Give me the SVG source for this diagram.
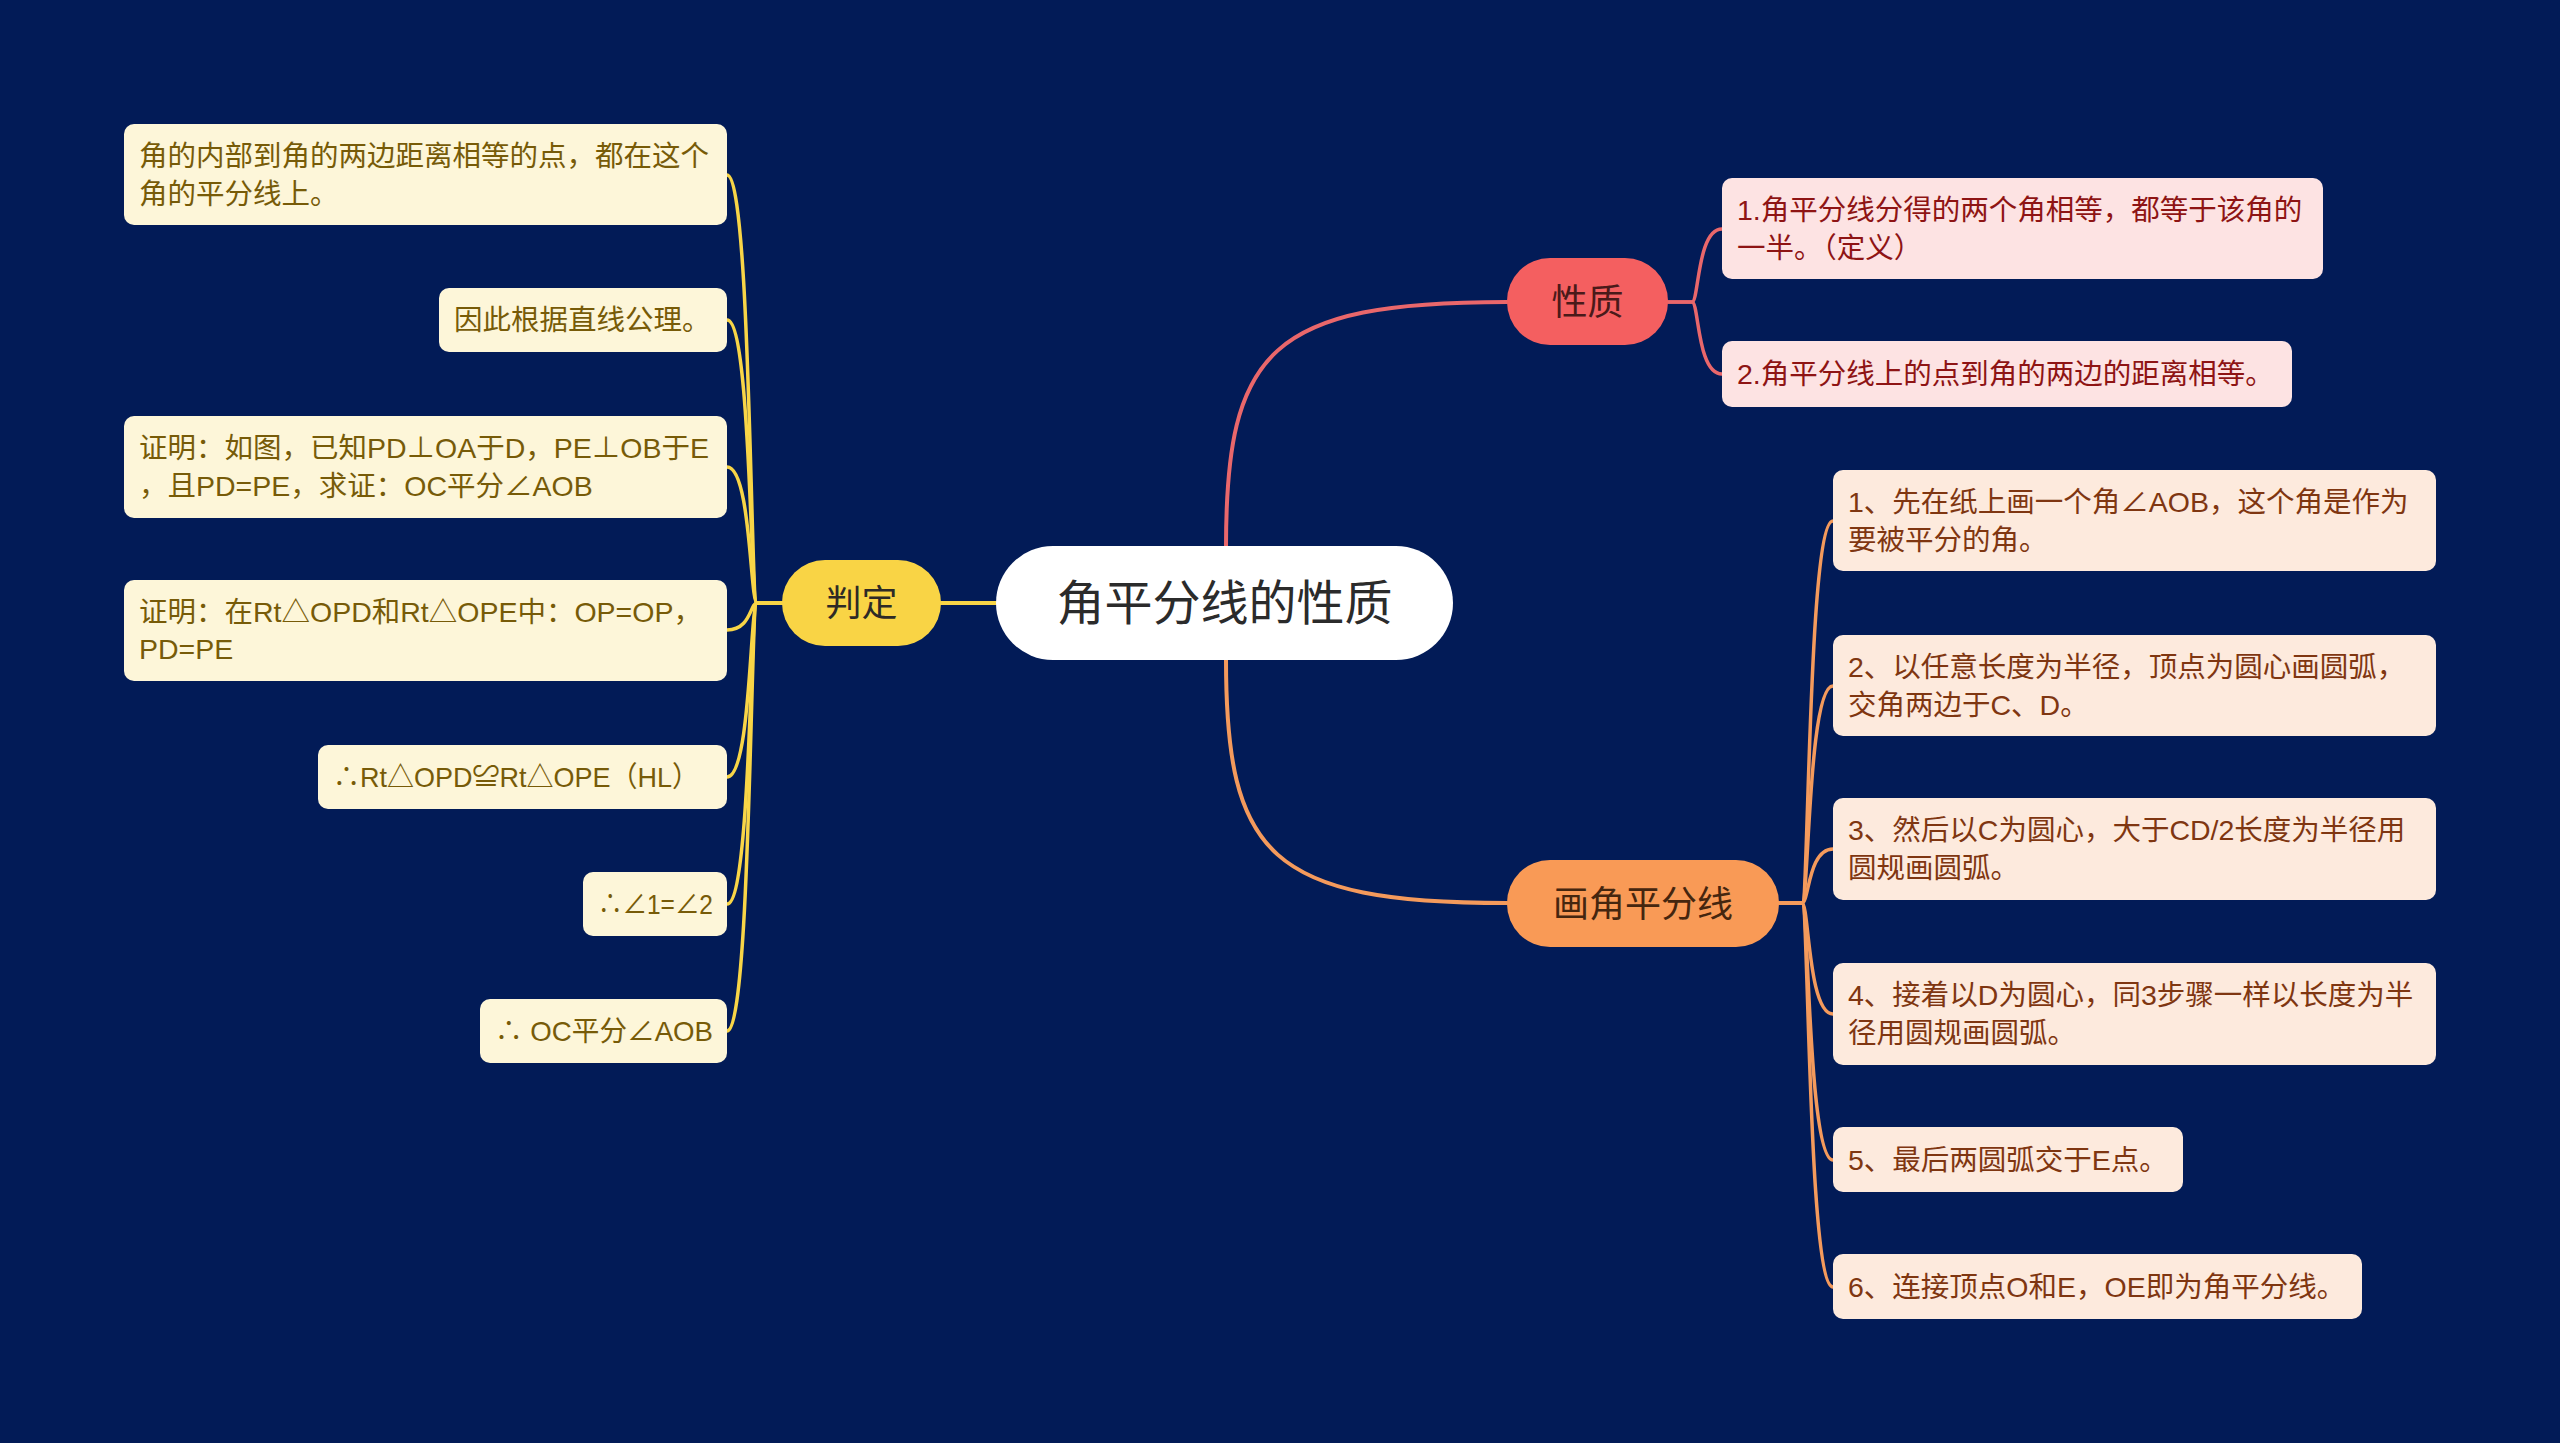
<svg xmlns="http://www.w3.org/2000/svg" width="2560" height="1443" viewBox="0 0 2560 1443">
<style>
text{font-family:"Liberation Sans","Noto Sans CJK SC",sans-serif;}
.leaf{font-size:28.5px;}
.yl rect{fill:#fdf6d9;}
.yl text{fill:#775b08;}
.rd rect{fill:#fde3e3;}
.rd text{fill:#8e1414;}
.or rect{fill:#fdeadd;}
.or text{fill:#7f3611;}
.c{fill:none;stroke-linecap:round;}
.cy{stroke:#f8d547;}
.cr{stroke:#e9676b;}
.co{stroke:#f49a5c;}
.main{stroke-width:4;}
.sub{stroke-width:3.5;}
.topic{font-size:36px;fill:#2e2a26;text-anchor:middle;}
</style>
<rect width="2560" height="1443" fill="#021b57"/>
<g id="connectors">
<path class="c cy main" d="M 996 603 H 940"/>
<path class="c cr main" d="M 1226 547 C 1226 350 1270 302 1507 302"/>
<path class="c co main" d="M 1226 660 C 1226 855 1270 903 1507 903"/>
<path class="c cy sub" d="M 782 603 L 757 603 C 750 603 751 175 727 175"/>
<path class="c cy sub" d="M 782 603 L 757 603 C 750 603 751 320 727 320"/>
<path class="c cy sub" d="M 782 603 L 757 603 C 750 603 751 467 727 467"/>
<path class="c cy sub" d="M 782 603 L 757 603 C 750 603 751 630 727 630"/>
<path class="c cy sub" d="M 782 603 L 757 603 C 750 603 751 777 727 777"/>
<path class="c cy sub" d="M 782 603 L 757 603 C 750 603 751 904 727 904"/>
<path class="c cy sub" d="M 782 603 L 757 603 C 750 603 751 1031 727 1031"/>
<path class="c cr sub" d="M 1668 302 L 1692 302 C 1699 302 1697 229 1722 229"/>
<path class="c cr sub" d="M 1668 302 L 1692 302 C 1699 302 1697 374 1722 374"/>
<path class="c co sub" d="M 1779 903 L 1802 903 C 1809 903 1808 521 1833 521"/>
<path class="c co sub" d="M 1779 903 L 1802 903 C 1809 903 1808 686 1833 686"/>
<path class="c co sub" d="M 1779 903 L 1802 903 C 1809 903 1808 849 1833 849"/>
<path class="c co sub" d="M 1779 903 L 1802 903 C 1809 903 1808 1014 1833 1014"/>
<path class="c co sub" d="M 1779 903 L 1802 903 C 1809 903 1808 1160 1833 1160"/>
<path class="c co sub" d="M 1779 903 L 1802 903 C 1809 903 1808 1287 1833 1287"/>
</g>
<g id="root">
<rect x="996" y="546" width="457" height="114" rx="57" fill="#ffffff"/>
<text x="1224.5" y="620" font-size="48" fill="#2b2b2b" text-anchor="middle">角平分线的性质</text>
</g>
<g id="n-panding">
<rect x="782" y="560" width="159" height="86" rx="43" fill="#f9d445"/>
<text class="topic" x="861.5" y="616">判定</text>
</g>
<g id="n-xingzhi">
<rect x="1507" y="258" width="161" height="87" rx="43" fill="#f45f60"/>
<text class="topic" x="1587.5" y="315" style="fill:#4a1a1a">性质</text>
</g>
<g id="n-hua">
<rect x="1507" y="860" width="272" height="87" rx="43" fill="#f99a56"/>
<text class="topic" x="1643" y="917" style="fill:#45260f">画角平分线</text>
</g>
<g id="j1" class="yl leaf">
<rect x="124" y="124" width="603" height="101" rx="10"/>
<text x="139" y="166">角的内部到角的两边距离相等的点，都在这个</text>
<text x="139" y="203.5">角的平分线上。</text>
</g>
<g id="j2" class="yl leaf">
<rect x="439" y="288" width="288" height="64" rx="10"/>
<text x="454" y="330">因此根据直线公理。</text>
</g>
<g id="j3" class="yl leaf">
<rect x="124" y="416" width="603" height="102" rx="10"/>
<text x="139" y="458">证明：如图，已知PD⊥OA于D，PE⊥OB于E</text>
<text x="139" y="495.5">，且PD=PE，求证：OC平分∠AOB</text>
</g>
<g id="j4" class="yl leaf">
<rect x="124" y="580" width="603" height="101" rx="10"/>
<text x="139" y="621.5">证明：在Rt△OPD和Rt△OPE中：OP=OP，</text>
<text x="139" y="659">PD=PE</text>
</g>
<g id="j5" class="yl leaf">
<rect x="318" y="745" width="409" height="64" rx="10"/>
<text x="333" y="787" textLength="366" lengthAdjust="spacingAndGlyphs">∴Rt△OPD≌Rt△OPE（HL）</text>
</g>
<g id="j6" class="yl leaf">
<rect x="583" y="872" width="144" height="64" rx="10"/>
<text x="598" y="914" textLength="115" lengthAdjust="spacingAndGlyphs">∴∠1=∠2</text>
</g>
<g id="j7" class="yl leaf">
<rect x="480" y="999" width="247" height="64" rx="10"/>
<text x="495" y="1041" textLength="218" lengthAdjust="spacingAndGlyphs">∴ OC平分∠AOB</text>
</g>
<g id="x1" class="rd leaf">
<rect x="1722" y="178" width="601" height="101" rx="10"/>
<text x="1737" y="220">1.角平分线分得的两个角相等，都等于该角的</text>
<text x="1737" y="257.5">一半。（定义）</text>
</g>
<g id="x2" class="rd leaf">
<rect x="1722" y="341" width="570" height="66" rx="10"/>
<text x="1737" y="384">2.角平分线上的点到角的两边的距离相等。</text>
</g>
<g id="s1" class="or leaf">
<rect x="1833" y="470" width="603" height="101" rx="10"/>
<text x="1848" y="512">1、先在纸上画一个角∠AOB，这个角是作为</text>
<text x="1848" y="549.5">要被平分的角。</text>
</g>
<g id="s2" class="or leaf">
<rect x="1833" y="635" width="603" height="101" rx="10"/>
<text x="1848" y="677">2、以任意长度为半径，顶点为圆心画圆弧，</text>
<text x="1848" y="714.5">交角两边于C、D。</text>
</g>
<g id="s3" class="or leaf">
<rect x="1833" y="798" width="603" height="102" rx="10"/>
<text x="1848" y="840">3、然后以C为圆心，大于CD/2长度为半径用</text>
<text x="1848" y="877.5">圆规画圆弧。</text>
</g>
<g id="s4" class="or leaf">
<rect x="1833" y="963" width="603" height="102" rx="10"/>
<text x="1848" y="1005">4、接着以D为圆心，同3步骤一样以长度为半</text>
<text x="1848" y="1042.5">径用圆规画圆弧。</text>
</g>
<g id="s5" class="or leaf">
<rect x="1833" y="1127" width="350" height="65" rx="10"/>
<text x="1848" y="1170">5、最后两圆弧交于E点。</text>
</g>
<g id="s6" class="or leaf">
<rect x="1833" y="1254" width="529" height="65" rx="10"/>
<text x="1848" y="1297">6、连接顶点O和E，OE即为角平分线。</text>
</g>
</svg>
